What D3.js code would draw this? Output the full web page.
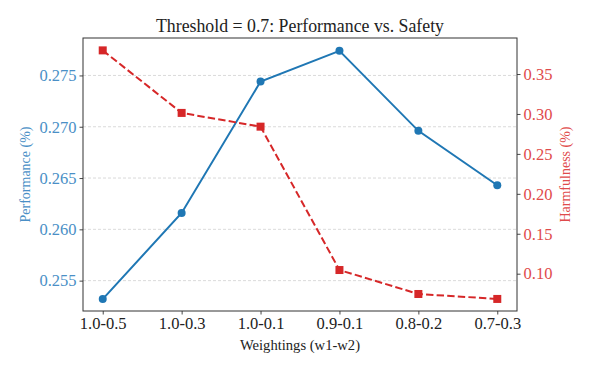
<!DOCTYPE html>
<html>
<head>
<script src="https://d3js.org/d3.v7.min.js"></script>
<style>
  body { margin: 0; background: #fff; }
  text { font-family: "Liberation Serif", "DejaVu Serif", serif; }
</style>
</head>
<body>
<svg id="chart" width="606" height="378"></svg>
<script>
// data
const weightings = ["1.0-0.5", "1.0-0.3", "1.0-0.1", "0.9-0.1", "0.8-0.2", "0.7-0.3"];
const performance = [0.2532, 0.2616, 0.2744, 0.2774, 0.2696, 0.2643];
const harmfulness = [0.3796, 0.3013, 0.2841, 0.1046, 0.0746, 0.0684];
const perfTicks = [0.255, 0.260, 0.265, 0.270, 0.275];
const harmTicks = [0.10, 0.15, 0.20, 0.25, 0.30, 0.35];

const blue = "#1f77b4", red = "#d62728";
const margin = {top: 38, right: 89, bottom: 67, left: 83};
const W = 606, H = 378;
const width = W - margin.left - margin.right,
      height = H - margin.top - margin.bottom;

const svg = d3.select("#chart");
const g = svg.append("g").attr("transform", `translate(${margin.left},${margin.top})`);

// x: index positions with matplotlib-like 5% padding
const x = d3.scaleLinear().domain([-0.25, weightings.length - 1 + 0.25]).range([0, width]);
const yL = d3.scaleLinear().domain([0.25204, 0.27865]).range([height, 0]);
const yR = d3.scaleLinear().domain([0.0533, 0.3951]).range([height, 0]);

// grid (left axis ticks)
g.append("g").selectAll("line").data(perfTicks).join("line")
  .attr("x1", 0).attr("x2", width)
  .attr("y1", d => yL(d)).attr("y2", d => yL(d))
  .attr("stroke", "#d0d0d0").attr("stroke-width", 0.8)
  .attr("stroke-dasharray", "3,2");

// axes
const xAxis = g.append("g").attr("transform", `translate(0,${height})`)
  .call(d3.axisBottom(x).tickValues(d3.range(weightings.length))
    .tickFormat(i => weightings[i]).tickSizeOuter(0).tickSize(3.5).tickPadding(3));
xAxis.selectAll("text").attr("font-size", "16.5px").attr("fill", "#222");

const leftAxis = g.append("g")
  .call(d3.axisLeft(yL).tickValues(perfTicks).tickFormat(d3.format(".3f"))
    .tickSizeOuter(0).tickSize(3.5).tickPadding(3));
leftAxis.selectAll("text").attr("font-size", "16.5px").attr("fill", "#4a8fc6");

const rightAxis = g.append("g").attr("transform", `translate(${width},0)`)
  .call(d3.axisRight(yR).tickValues(harmTicks).tickFormat(d3.format(".2f"))
    .tickSizeOuter(0).tickSize(3.5).tickPadding(3));
rightAxis.selectAll("text").attr("font-size", "16.5px").attr("fill", "#df4b4b");

[xAxis, leftAxis, rightAxis].forEach(a => {
  a.select(".domain").remove();
  a.selectAll(".tick line").attr("stroke", "#333").attr("stroke-width", 0.9);
});

// frame
g.append("rect").attr("x", 0).attr("y", 0).attr("width", width).attr("height", height)
  .attr("fill", "none").attr("stroke", "#333").attr("stroke-width", 1);

// performance line
g.append("path").datum(performance)
  .attr("fill", "none").attr("stroke", blue).attr("stroke-width", 2)
  .attr("d", d3.line().x((d, i) => x(i)).y(d => yL(d)));
g.append("g").selectAll("circle").data(performance).join("circle")
  .attr("cx", (d, i) => x(i)).attr("cy", d => yL(d)).attr("r", 4)
  .attr("fill", blue);

// harmfulness line
g.append("path").datum(harmfulness)
  .attr("fill", "none").attr("stroke", red).attr("stroke-width", 2)
  .attr("stroke-dasharray", "7.4,3.2")
  .attr("d", d3.line().x((d, i) => x(i)).y(d => yR(d)));
g.append("g").selectAll("rect").data(harmfulness).join("rect")
  .attr("x", (d, i) => x(i) - 4).attr("y", d => yR(d) - 4)
  .attr("width", 8).attr("height", 8).attr("fill", red);

// labels
svg.append("text").attr("x", margin.left + width / 2).attr("y", 31.5)
  .attr("text-anchor", "middle").attr("font-size", "17.8px").attr("fill", "#222")
  .text("Threshold = 0.7: Performance vs. Safety");

svg.append("text").attr("x", margin.left + width / 2).attr("y", 350)
  .attr("text-anchor", "middle").attr("font-size", "14.6px").attr("fill", "#222")
  .text("Weightings (w1-w2)");

svg.append("text")
  .attr("transform", `translate(30,${margin.top + height / 2}) rotate(-90)`)
  .attr("text-anchor", "middle").attr("font-size", "14px").attr("fill", "#4a8fc6")
  .text("Performance (%)");

svg.append("text")
  .attr("transform", `translate(570,${margin.top + height / 2}) rotate(-90)`)
  .attr("text-anchor", "middle").attr("font-size", "14px").attr("fill", "#df4b4b")
  .text("Harmfulness (%)");
</script>
</body>
</html>
